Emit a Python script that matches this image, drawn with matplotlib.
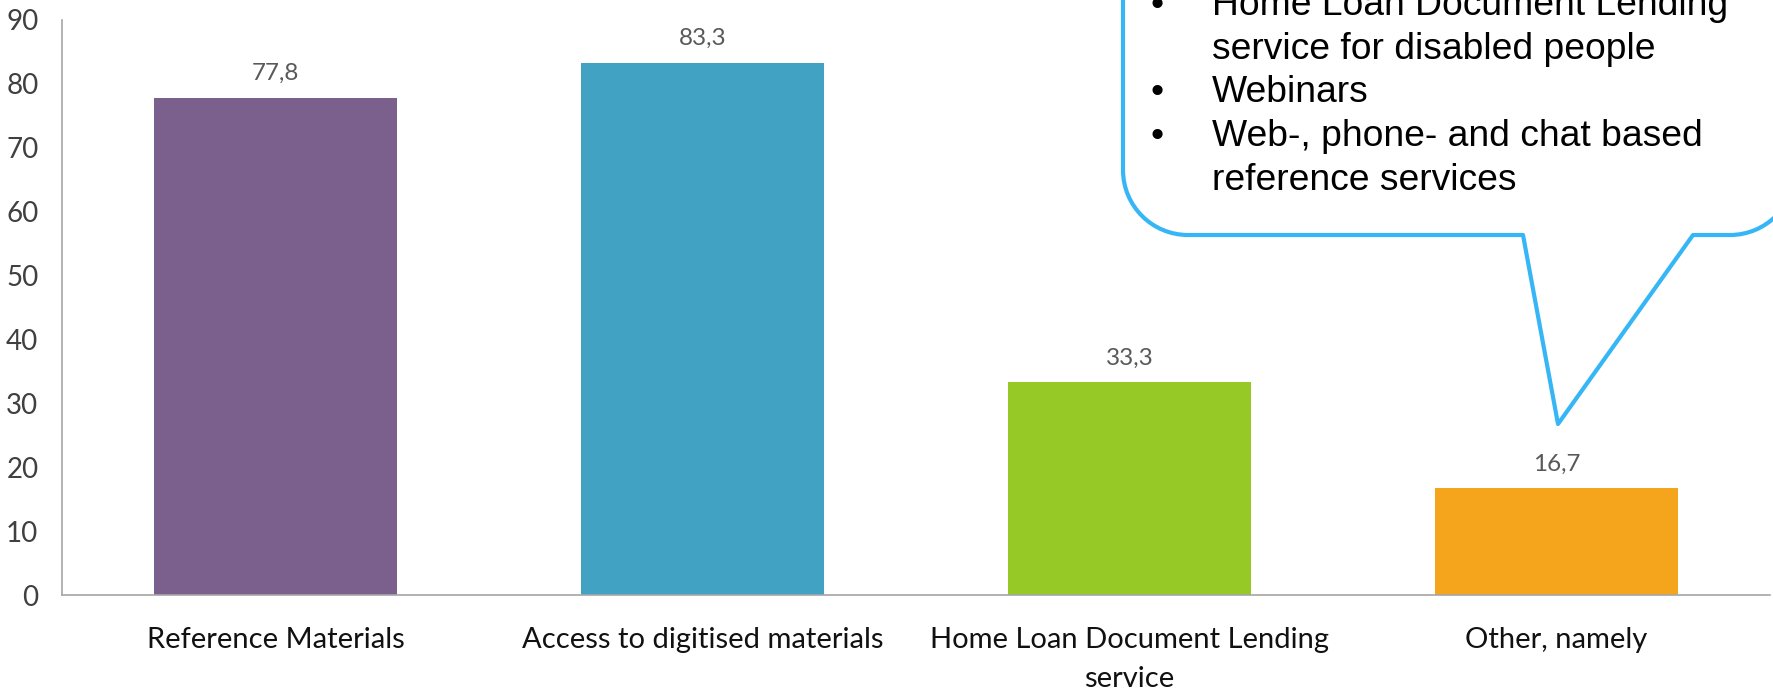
import matplotlib
matplotlib.use('Agg')
import matplotlib.pyplot as plt
from matplotlib.path import Path
from matplotlib.patches import PathPatch

# data
categories = ['Reference Materials', 'Access to digitised materials',
              'Home Loan Document Lending\nservice', 'Other, namely']
values     = [77.8, 83.3, 33.3, 16.7]
value_text = ['77,8', '83,3', '33,3', '16,7']
colors     = ['#7B5F8D', '#41A2C3', '#96C826', '#F4A51C']
yticks     = [0, 10, 20, 30, 40, 50, 60, 70, 80, 90]
callout_lines = ['Home Loan Document Lending', 'service for disabled people',
                 'Webinars', 'Web-, phone- and chat based', 'reference services']
callout_bullet = [True, False, True, True, False]

W, H = 1773, 688
fig = plt.figure(figsize=(W / 100, H / 100), dpi=100)
ax = fig.add_axes([62 / W, 1 - 595 / H, (1770 - 62) / W, (595 - 20) / H])

x = range(len(categories))
ax.bar(x, values, width=0.567, color=colors, zorder=2)
for xi, v, t in zip(x, values, value_text):
    ax.annotate(t, (xi, v), xytext=(0, 10), textcoords='offset points',
                ha='center', va='bottom', fontsize=17.5, color='#595959',
                family='Lato')

ax.set_xlim(-0.5, 3.5)
ax.set_ylim(0, 90)
ax.set_yticks(yticks)
ax.set_xticks(list(x))
ax.set_xticklabels(categories, fontsize=21, family='Lato', color='#111111',
                   linespacing=1.6)
ax.tick_params(axis='x', length=0, pad=23)
ax.tick_params(axis='y', length=0, pad=17, labelsize=20, labelcolor='#404040')
for lab in ax.get_yticklabels():
    lab.set_family('Lato')
for s in ['top', 'right']:
    ax.spines[s].set_visible(False)
for s in ['left', 'bottom']:
    ax.spines[s].set_color('#A6A6A6')
    ax.spines[s].set_linewidth(1.2)


# speech-bubble callout, in figure pixels (y measured from top)
def fp(px, py):
    return (px / W, 1 - py / H)

left, bottom, right, r = 1123, 235, 1795, 65
k = 0.5523 * r
verts = [fp(left, -20), fp(left, bottom - r),
         fp(left, bottom - r + k), fp(left + r - k, bottom), fp(left + r, bottom),
         fp(1523, bottom), fp(1558, 424), fp(1693, bottom),
         fp(right - r, bottom),
         fp(right - r + k, bottom), fp(right, bottom - r + k), fp(right, bottom - r)]
codes = [Path.MOVETO, Path.LINETO,
         Path.CURVE4, Path.CURVE4, Path.CURVE4,
         Path.LINETO, Path.LINETO, Path.LINETO, Path.LINETO,
         Path.CURVE4, Path.CURVE4, Path.CURVE4]
bubble = PathPatch(Path(verts, codes), transform=fig.transFigure,
                   facecolor='white', edgecolor='#36B6F6', linewidth=3,
                   joinstyle='round', zorder=5, clip_on=False)
fig.patches.append(bubble)

baselines = [15, 59, 102, 146, 190]
for line, b, yb in zip(callout_lines, callout_bullet, baselines):
    fig.text(*fp(1212, yb), line, fontsize=26.8, family='Liberation Sans',
             va='baseline', ha='left', color='black', zorder=6)
    if b:
        fig.text(*fp(1150, yb), '•', fontsize=26.8, family='Liberation Sans',
                 va='baseline', ha='left', color='black', zorder=6)

fig.savefig('out.png', dpi=100)
plt.close()
